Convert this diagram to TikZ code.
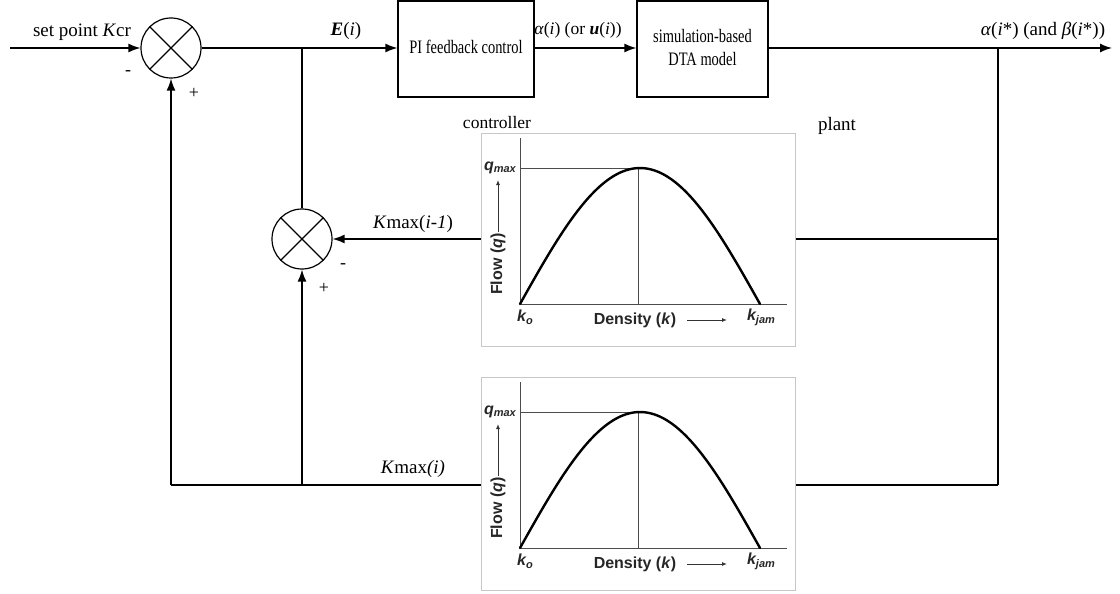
\documentclass[tikz,border=0pt]{standalone}
\usepackage{fontspec}
\setmainfont{Liberation Serif}
\newfontfamily\chartfont{Liberation Sans}
\usetikzlibrary{arrows.meta,calc}
\tikzset{
  wire/.style={line width=1.4pt, draw=black},
  arr/.style={wire, -{Latex[length=12pt,width=9pt]}},
  blockbox/.style={draw=black, line width=1.2pt, minimum width=136pt, minimum height=96pt, inner sep=0pt, align=center},
  sumnode/.style={circle, draw=black, line width=1.2pt, minimum size=60pt, inner sep=0pt},
  lbl/.style={font=\fontsize{19}{22}\selectfont, inner sep=0pt},
  sgn/.style={font=\fontsize{18}{20}\selectfont, inner sep=0pt},
  chartframe/.style={draw=black!22, line width=1pt, minimum width=314pt, minimum height=213pt, inner sep=0pt},
  axis/.style={draw=black!70, line width=1pt},
  curve/.style={draw=black, line width=2.4pt},
  ctext/.style={font=\chartfont\bfseries\fontsize{16}{18}\selectfont, text=black!85, inner sep=0pt},
}
\newcommand{\boxtext}[1]{\scalebox{0.76}[1]{\fontsize{19}{23}\selectfont\begin{tabular}{@{}c@{}}#1\end{tabular}}}
\newcommand{\drawchart}[1]{%
  \begin{scope}[shift={(#1)}]
    \draw[axis] (39,5) -- (39,171) -- (306,171);
    \draw[axis] (39,35) -- (157,35) -- (157,171);
    \draw[curve, line cap=round] plot[domain=0:240, samples=60, smooth] ({39+\x},{171-136*sin(0.75*\x)});
    \node[ctext, anchor=east] (qm) at (35,35) {\textit{q\fontsize{11}{11}\selectfont\raisebox{-2pt}{max}}};
    \node[ctext, rotate=90, anchor=west] (fl) at (17,162) {Flow (\textit{q})};
    \draw[black!80, line width=1pt, -{Latex[length=5pt,width=4pt]}] (17,99) -- (17,47);
    \node[ctext] (ko) at (44,184) {\textit{k\fontsize{11}{11}\selectfont\raisebox{-3pt}{o}}};
    \node[ctext] (dens) at (154,187) {Density (\textit{k})};
    \draw[black!80, line width=1pt, -{Latex[length=5pt,width=4pt]}] (206,187) -- (246,187);
    \node[ctext] (kj) at (280,184) {\textit{k\fontsize{11}{11}\selectfont\raisebox{-3pt}{jam}}};
  \end{scope}}
\begin{document}
\begin{tikzpicture}[x=1pt, y=-1pt]
\useasboundingbox (0,0) rectangle (1120,594);
% blocks
\node[sumnode] (s1) at (171,48) {};
\draw[line width=1.2pt] ($(s1)+(-21,-21)$) -- ($(s1)+(21,21)$) ($(s1)+(-21,21)$) -- ($(s1)+(21,-21)$);
\node[sumnode] (s2) at (302,239) {};
\draw[line width=1.2pt] ($(s2)+(-21,-21)$) -- ($(s2)+(21,21)$) ($(s2)+(-21,21)$) -- ($(s2)+(21,-21)$);
\node[blockbox] (pi) at (466,49) {\boxtext{PI feedback control}};
\node[blockbox, minimum width=131pt] (dta) at (702.5,49) {\boxtext{simulation-based\\DTA model}};
\node[chartframe] (c1) at (638,240) {};
\drawchart{481,133}
\node[chartframe] (c2) at (638,484) {};
\drawchart{481,377}
% coordinates
\coordinate (in) at (10,48);
\coordinate (j1) at (302,48);
\coordinate (j2) at (998,48);
\coordinate (out) at (1112,48);
\coordinate (j4) at (998,239);
\coordinate (b1) at (171,485);
\coordinate (j3) at (302,485);
\coordinate (b2) at (998,485);
% connectors
\draw[arr] (in) -- (s1.west);
\draw[arr] (s1.east) -- (s1.east -| pi.west);
\draw[arr] (pi.east |- s1) -- (dta.west |- s1);
\draw[arr] (dta.east |- s1) -- (out);
\draw[wire] (j1) -- (s2.north);
\draw[wire] (j2) -- (b2);
\draw[wire] (j4) -- (j4 -| c1.east);
\draw[arr] (j4 -| c1.west) -- (s2.east);
\draw[wire] (b2) -- (b2 -| c2.east);
\draw[wire] (b2 -| c2.west) -- (b1);
\draw[arr] (b1) -- (s1.south);
\draw[arr] (j3) -- (s2.south);
% labels
\node[lbl] (tsp) at (82,32) {set point \textit{K}cr};
\node[lbl] (te) at (346,31) {\textbf{\textit{E}}(\textit{i})};
\node[lbl, font=\fontsize{17.5}{20}\selectfont] (ta) at (578,30) {\textit{α}(\textit{i}) (or \textbf{\textit{u}}(\textit{i}))};
\node[lbl] (tout) at (1043,31) {\textit{α}(\textit{i}*) (and \textit{β}(\textit{i}*))};
\node[lbl, font=\fontsize{17.5}{20}\selectfont] (tc) at (497,123) {controller};
\node[lbl] (tp) at (837,126) {plant};
\node[lbl] (tk1) at (413,224) {\textit{K}max(\textit{i-1})};
\node[lbl] (tk2) at (413,469) {\textit{K}max\textit{(i)}};
\node[sgn] (m1) at (128,73) {-};
\node[sgn] (p1) at (194,93) {+};
\node[sgn] (m2) at (343,266) {-};
\node[sgn] (p2) at (324,288) {+};
\end{tikzpicture}
\end{document}
